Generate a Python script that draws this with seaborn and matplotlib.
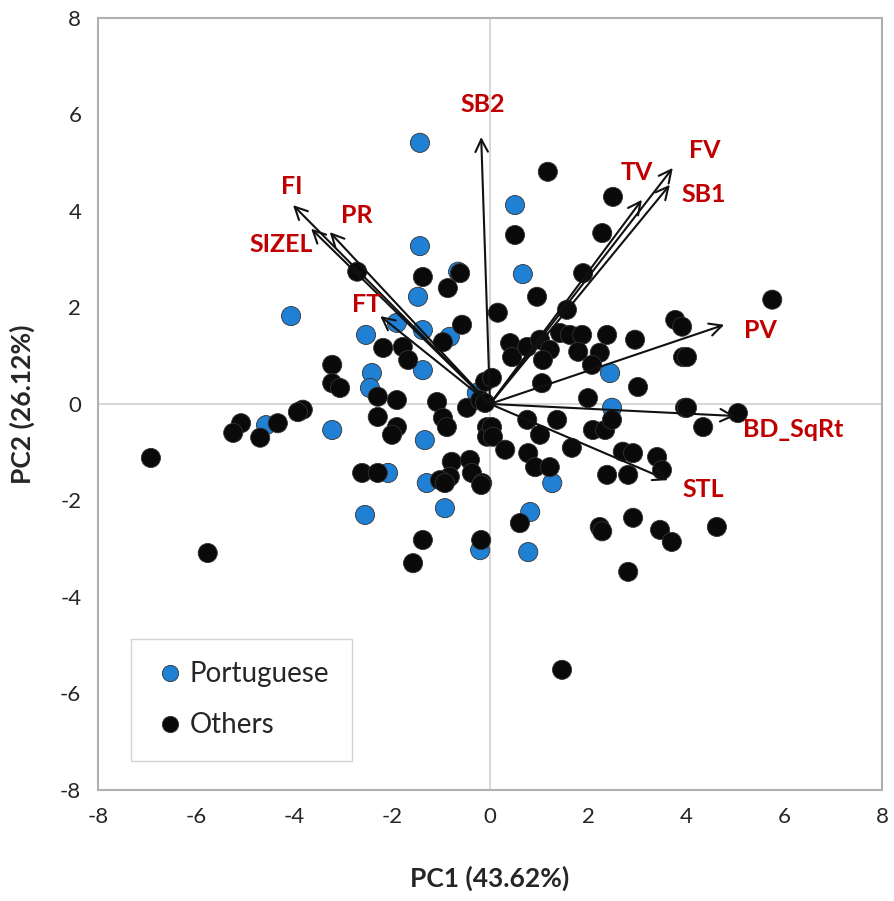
import matplotlib
matplotlib.use("Agg")
import matplotlib.pyplot as plt
import seaborn as sns
import pandas as pd

# PCA scores
port_x = [-1.43, 0.51, -1.43, -0.65, 0.67, -1.47, -4.06, -2.53, -1.90, -1.37, -0.82, -1.37,
          -2.41, -2.45, -3.22, -1.33, -2.08, -1.29, -0.27, -4.57, 2.45, 2.49, 1.27, -2.55,
          -0.92, -0.20, 0.82, 0.78]
port_y = [5.41, 4.12, 3.27, 2.74, 2.69, 2.22, 1.82, 1.43, 1.68, 1.53, 1.39, 0.70,
          0.64, 0.33, -0.54, -0.75, -1.43, -1.64, 0.23, -0.44, 0.64, -0.08, -1.64, -2.30,
          -2.16, -3.03, -2.24, -3.07]

other_x = [1.18, 2.51, 0.51, 2.29, 1.90, 0.96, -2.71, -1.37, -0.61, -0.86, -0.57, -0.96,
           -2.18, -1.78, -1.67, -3.22, -3.22, -3.06, -2.29, -1.90, -3.82, -2.29, -1.08, -0.47,
           -0.20, -0.10, -0.96, -0.88, -1.90, -2.00, -0.06, -0.06, -0.78, -0.41, -0.82, -0.37,
           -0.16, -2.61, -2.29, -1.02, -5.08, -5.24, -4.33, -4.69, -3.92, -6.92, -5.76, -1.37,
           -1.57, -0.18, -0.18, -0.92, 0.16, 1.57, 3.78, 3.92, 0.41, 0.45, 0.76, 1.02,
           1.22, 1.08, 1.43, 1.63, 1.88, 1.80, 2.24, 2.08, 2.39, 2.96, 3.94, 1.06,
           3.02, 2.00, 3.98, 0.04, 0.04, 0.06, 0.76, 1.37, 1.02, 2.10, 2.35, 2.49,
           0.31, 0.78, 1.67, 0.92, 1.22, 2.71, 2.92, 3.41, 3.51, 2.39, 2.82, 5.76,
           4.02, 4.02, 4.35, 5.06, 0.61, 2.24, 2.29, 2.92, 3.47, 3.71, 4.63, 2.82,
           1.47, -0.10]
other_y = [4.81, 4.29, 3.50, 3.54, 2.71, 2.22, 2.74, 2.63, 2.71, 2.40, 1.64, 1.28,
           1.16, 1.18, 0.91, 0.81, 0.43, 0.33, 0.15, 0.08, -0.12, -0.27, 0.04, -0.08,
           0.08, 0.46, -0.29, -0.48, -0.48, -0.64, -0.48, -0.68, -1.20, -1.16, -1.51, -1.43,
           -1.64, -1.43, -1.43, -1.58, -0.40, -0.60, -0.40, -0.70, -0.17, -1.12, -3.09, -2.82,
           -3.30, -2.82, -1.68, -1.64, 1.89, 1.95, 1.74, 1.60, 1.26, 0.97, 1.18, 1.33,
           1.12, 0.91, 1.47, 1.43, 1.43, 1.08, 1.06, 0.81, 1.43, 1.33, 0.97, 0.43,
           0.35, 0.12, -0.08, 0.54, -0.48, -0.68, -0.33, -0.33, -0.64, -0.54, -0.54, -0.33,
           -0.95, -1.02, -0.91, -1.31, -1.31, -0.99, -1.02, -1.10, -1.37, -1.47, -1.47, 2.16,
           0.97, -0.08, -0.48, -0.19, -2.47, -2.55, -2.64, -2.36, -2.61, -2.86, -2.55, -3.48,
           -5.51, 0.02]

# loading vectors
var_names = ["SB2", "FI", "SIZEL", "PR", "FT", "TV", "FV", "SB1", "PV", "BD_SqRt", "STL"]
var_x = [-0.18, -4.02, -3.65, -3.27, -2.24, 3.10, 3.73, 3.67, 4.78, 5.00, 3.63]
var_y = [5.53, 4.12, 3.63, 3.56, 1.82, 4.23, 4.89, 4.54, 1.64, -0.25, -1.58]
label_x = [-0.14, -4.04, -4.27, -2.71, -2.51, 3.00, 4.39, 4.37, 5.51, 6.18, 4.35]
label_y = [6.20, 4.50, 3.30, 3.90, 2.07, 4.80, 5.26, 4.33, 1.53, -0.54, -1.78]

df = pd.DataFrame({
    "PC1": port_x + other_x,
    "PC2": port_y + other_y,
    "group": ["Portuguese"] * len(port_x) + ["Others"] * len(other_x),
})

sns.set_style("white")
plt.rcParams["font.family"] = ["Lato", "DejaVu Sans"]
plt.rcParams["axes.unicode_minus"] = False

fig = plt.figure(figsize=(8.94, 9.01), dpi=100)
ax = fig.add_axes([0.1096, 0.1232, 0.877, 0.857])

ax.axhline(0, color="#d0d0d0", lw=1.2, zorder=0)
ax.axvline(0, color="#d0d0d0", lw=1.2, zorder=0)

sns.scatterplot(data=df, x="PC1", y="PC2", hue="group",
                palette={"Portuguese": "#1f80d4", "Others": "#0a0a0a"},
                s=190, edgecolor="#333333", linewidth=0.6, ax=ax, zorder=3)

for name, vx, vy, lx, ly in zip(var_names, var_x, var_y, label_x, label_y):
    ax.annotate("", xy=(vx, vy), xytext=(0, 0),
                arrowprops=dict(arrowstyle="->,head_length=0.9,head_width=0.45",
                                color="#111111", lw=1.5, shrinkA=0, shrinkB=0),
                zorder=4)
    ax.text(lx, ly, name, color="#c00000", fontsize=18, fontweight="bold",
            ha="center", va="center", zorder=5)

ax.set_xlim(-8, 8)
ax.set_ylim(-8, 8)
ax.set_xticks(range(-8, 9, 2))
ax.set_yticks(range(-8, 9, 2))
ax.tick_params(labelsize=16, length=0, pad=12)
ax.set_xlabel("PC1 (43.62%)", fontsize=19, fontweight="bold", labelpad=28)
ax.set_ylabel("PC2 (26.12%)", fontsize=19, fontweight="bold", labelpad=18)
for sp in ax.spines.values():
    sp.set_color("#b0b0b0")
    sp.set_linewidth(1.5)

handles, labels = ax.get_legend_handles_labels()
order = [labels.index("Portuguese"), labels.index("Others")]
ax.legend([handles[i] for i in order], [labels[i] for i in order],
          loc="lower left", bbox_to_anchor=(0.025, 0.02), fontsize=20,
          frameon=True, fancybox=False, edgecolor="#c8c8c8",
          handletextpad=0.1, borderpad=0.8, labelspacing=0.9, markerscale=0.85,
          handlelength=1.2)

fig.savefig("out.png", dpi=100)
